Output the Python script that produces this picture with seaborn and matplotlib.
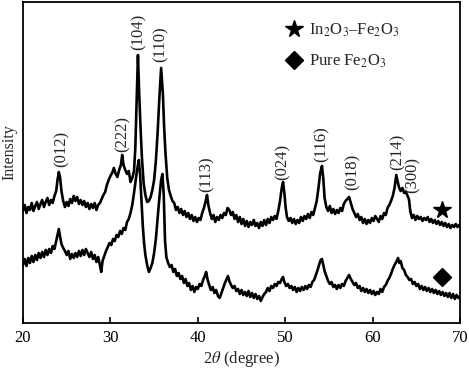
import numpy as np
import pandas as pd
import matplotlib
matplotlib.use("Agg")
import matplotlib.pyplot as plt
from matplotlib.lines import Line2D
import seaborn as sns

# ---------------- data ----------------
composite_theta = [
    20.0, 20.2, 20.4, 20.6, 20.8, 21.0, 21.2, 21.4, 21.6, 21.8, 22.0, 22.2, 22.4, 22.6, 22.8,
    23.0, 23.2, 23.4, 23.6, 23.8, 23.95, 24.1, 24.25, 24.4, 24.6, 24.8, 25.0, 25.2, 25.4, 25.6,
    25.8, 26.0, 26.2, 26.4, 26.6, 26.8, 27.0, 27.2, 27.4, 27.6, 27.8, 28.0, 28.2, 28.4, 28.6,
    28.8, 29.0, 29.2, 29.4, 29.6, 29.8, 30.0, 30.2, 30.4, 30.6, 30.8, 31.0, 31.2, 31.35, 31.5,
    31.7, 31.9, 32.1, 32.3, 32.5, 32.7, 32.85, 33.0, 33.15, 33.3, 33.45, 33.6, 33.8, 34.0, 34.2,
    34.4, 34.6, 34.8, 35.0, 35.2, 35.4, 35.6, 35.8, 36.0, 36.15, 36.3, 36.5, 36.7, 36.9, 37.1,
    37.3, 37.5, 37.7, 37.9, 38.1, 38.3, 38.5, 38.7, 38.9, 39.1, 39.3, 39.5, 39.7, 39.9, 40.1,
    40.3, 40.5, 40.7, 40.9, 41.05, 41.2, 41.4, 41.6, 41.8, 42.0, 42.2, 42.4, 42.6, 42.8, 43.0,
    43.2, 43.4, 43.6, 43.8, 44.0, 44.2, 44.4, 44.6, 44.8, 45.0, 45.2, 45.4, 45.6, 45.8, 46.0,
    46.2, 46.4, 46.6, 46.8, 47.0, 47.2, 47.4, 47.6, 47.8, 48.0, 48.2, 48.4, 48.6, 48.8, 49.0,
    49.2, 49.4, 49.6, 49.75, 49.9, 50.05, 50.2, 50.4, 50.6, 50.8, 51.0, 51.2, 51.4, 51.6, 51.8,
    52.0, 52.2, 52.4, 52.6, 52.8, 53.0, 53.2, 53.4, 53.6, 53.8, 54.0, 54.2, 54.35, 54.5, 54.7,
    54.9, 55.1, 55.3, 55.5, 55.7, 55.9, 56.1, 56.3, 56.5, 56.7, 56.9, 57.1, 57.3, 57.5, 57.7,
    57.9, 58.1, 58.3, 58.5, 58.7, 58.9, 59.1, 59.3, 59.5, 59.7, 59.9, 60.1, 60.3, 60.5, 60.7,
    60.9, 61.1, 61.3, 61.5, 61.7, 61.9, 62.1, 62.3, 62.5, 62.7, 62.85, 63.0, 63.2, 63.4, 63.6,
    63.8, 64.0, 64.15, 64.3, 64.5, 64.7, 64.9, 65.1, 65.3, 65.5, 65.7, 65.9, 66.1, 66.3, 66.5,
    66.7, 66.9, 67.1, 67.3, 67.5, 67.7, 67.9, 68.1, 68.3, 68.5, 68.7, 68.9, 69.1, 69.3, 69.5,
    69.7, 69.9, 70.0,
]
composite_intensity = [
    112, 118, 110, 116, 113, 120, 112, 117, 121, 114, 119, 123, 116, 121, 125,
    118, 123, 120, 127, 132, 143, 151, 145, 132, 122, 116, 121, 117, 124, 120,
    127, 122, 126, 119, 123, 118, 122, 116, 120, 114, 119, 115, 120, 113, 118,
    120, 124, 128, 131, 138, 143, 147, 150, 155, 149, 146, 153, 158, 168, 158,
    153, 149, 152, 141, 145, 152, 175, 220, 268, 228, 195, 166, 140, 128, 121,
    122, 126, 133, 143, 162, 190, 225, 255, 230, 195, 170, 145, 133, 127, 122,
    120, 113, 116, 110, 114, 108, 112, 106, 110, 104, 108, 102, 106, 101, 105,
    103, 110, 115, 122, 128, 118, 110, 104, 108, 101, 106, 103, 108, 105, 110,
    108, 115, 113, 108, 111, 104, 108, 101, 106, 99, 104, 97, 102, 96, 101,
    98, 103, 97, 100, 95, 101, 97, 103, 98, 104, 100, 106, 103, 107, 104,
    112, 122, 135, 141, 130, 115, 106, 102, 105, 100, 104, 99, 103, 100, 106,
    102, 107, 104, 109, 105, 111, 108, 115, 122, 135, 150, 157, 145, 125, 116,
    112, 117, 110, 114, 109, 113, 110, 115, 112, 119, 122, 124, 126, 120, 114,
    110, 106, 109, 103, 106, 100, 104, 99, 103, 100, 105, 102, 107, 104, 101,
    107, 104, 110, 108, 115, 118, 122, 127, 135, 148, 142, 136, 132, 135, 130,
    131, 127, 124, 112, 105, 108, 103, 107, 104, 106, 102, 105, 103, 106, 101,
    104, 100, 103, 99, 102, 98, 101, 97, 100, 96, 99, 95, 98, 96, 99,
    96, 98, 97,
]

pure_theta = [
    20.0, 20.2, 20.4, 20.6, 20.8, 21.0, 21.2, 21.4, 21.6, 21.8, 22.0, 22.2, 22.4, 22.6, 22.8,
    23.0, 23.2, 23.4, 23.6, 23.8, 23.95, 24.1, 24.25, 24.4, 24.6, 24.8, 25.0, 25.2, 25.4, 25.6,
    25.8, 26.0, 26.2, 26.4, 26.6, 26.8, 27.0, 27.2, 27.4, 27.6, 27.8, 28.0, 28.2, 28.4, 28.6,
    28.8, 28.95, 29.1, 29.3, 29.5, 29.7, 29.9, 30.1, 30.3, 30.5, 30.7, 30.9, 31.1, 31.3, 31.5,
    31.7, 31.9, 32.1, 32.3, 32.5, 32.7, 32.9, 33.05, 33.25, 33.4, 33.55, 33.7, 33.85, 34.0, 34.2,
    34.4, 34.6, 34.8, 35.0, 35.2, 35.4, 35.6, 35.8, 35.95, 36.1, 36.25, 36.4, 36.6, 36.8, 37.0,
    37.2, 37.4, 37.6, 37.8, 38.0, 38.2, 38.4, 38.6, 38.8, 39.0, 39.2, 39.4, 39.6, 39.8, 40.0,
    40.2, 40.4, 40.6, 40.8, 40.95, 41.1, 41.3, 41.5, 41.7, 41.9, 42.1, 42.3, 42.5, 42.7, 42.9,
    43.1, 43.3, 43.45, 43.6, 43.8, 44.0, 44.2, 44.4, 44.6, 44.8, 45.0, 45.2, 45.4, 45.6, 45.8,
    46.0, 46.2, 46.4, 46.6, 46.8, 47.0, 47.2, 47.4, 47.6, 47.8, 48.0, 48.2, 48.4, 48.6, 48.8,
    49.0, 49.2, 49.4, 49.6, 49.75, 49.9, 50.1, 50.3, 50.5, 50.7, 50.9, 51.1, 51.3, 51.5, 51.7,
    51.9, 52.1, 52.3, 52.5, 52.7, 52.9, 53.1, 53.3, 53.5, 53.7, 53.9, 54.05, 54.2, 54.35, 54.5,
    54.7, 54.9, 55.1, 55.3, 55.5, 55.7, 55.9, 56.1, 56.3, 56.5, 56.7, 56.9, 57.1, 57.3, 57.5,
    57.7, 57.9, 58.1, 58.3, 58.5, 58.7, 58.9, 59.1, 59.3, 59.5, 59.7, 59.9, 60.1, 60.3, 60.5,
    60.7, 60.9, 61.1, 61.3, 61.5, 61.7, 61.9, 62.1, 62.3, 62.5, 62.7, 62.9, 63.05, 63.2, 63.4,
    63.6, 63.8, 64.0, 64.2, 64.4, 64.6, 64.8, 65.0, 65.2, 65.4, 65.6, 65.8, 66.0, 66.2, 66.4,
    66.6, 66.8, 67.0, 67.2, 67.4, 67.6, 67.8, 68.0, 68.2, 68.4, 68.6, 68.8, 69.0, 69.2, 69.4,
    69.6, 69.8, 70.0,
]
pure_intensity = [
    58, 64, 57, 65, 60, 67, 61, 68, 63, 70, 65, 71, 66, 73, 68,
    74, 70, 77, 74, 82, 88, 94, 86, 79, 75, 72, 68, 72, 64, 69,
    65, 70, 66, 72, 67, 73, 68, 74, 70, 66, 71, 64, 68, 61, 66,
    58, 51, 62, 67, 72, 76, 80, 78, 84, 82, 88, 86, 92, 89, 95,
    93, 101, 104, 110, 118, 130, 143, 153, 163, 148, 122, 98, 80, 68, 58,
    51, 55, 60, 70, 84, 105, 125, 143, 149, 128, 82, 66, 60, 56, 58,
    51, 54, 47, 50, 44, 47, 40, 44, 37, 40, 33, 37, 31, 36, 34,
    39, 37, 43, 47, 51, 44, 38, 33, 36, 30, 33, 27, 25, 30, 35,
    40, 44, 47, 42, 38, 35, 37, 32, 34, 29, 33, 28, 31, 27, 32,
    26, 30, 25, 29, 24, 27, 22, 26, 29, 31, 35, 32, 37, 35, 39,
    37, 41, 40, 44, 46, 41, 37, 39, 35, 37, 33, 36, 31, 35, 32,
    36, 33, 37, 34, 38, 36, 41, 43, 48, 53, 59, 63, 64, 58, 52,
    47, 42, 39, 41, 36, 38, 34, 38, 35, 39, 37, 42, 45, 48, 44,
    41, 38, 40, 35, 37, 32, 35, 31, 34, 30, 33, 29, 32, 28, 31,
    29, 34, 31, 36, 38, 42, 45, 49, 54, 58, 61, 65, 60, 62, 55,
    53, 48, 46, 43, 44, 39, 41, 37, 39, 34, 37, 33, 36, 32, 35,
    31, 34, 30, 33, 29, 32, 28, 31, 27, 30, 26, 30, 25, 29, 24,
    28, 25, 27,
]

peak_labels = ["(012)", "(222)", "(104)", "(110)", "(113)", "(024)", "(116)", "(018)", "(214)", "(300)"]
label_theta = [24.45, 31.45, 33.27, 35.79, 41.05, 49.75, 54.2, 57.75, 62.8, 64.6]
label_height = [156, 171, 273, 261, 131, 143, 161, 133, 153, 130]

series_names = ["In$_2$O$_3$\u2013Fe$_2$O$_3$", "Pure Fe$_2$O$_3$"]
series_markers = ["*", "D"]
marker_theta = [67.95, 67.95]
marker_height = [113, 46]

x_ticks = [20, 30, 40, 50, 60, 70]

# ---------------- plotting ----------------
sns.set_theme(style="white")
plt.rcParams["font.family"] = ["Liberation Serif", "DejaVu Serif"]
plt.rcParams["mathtext.fontset"] = "stix"

df = pd.concat([
    pd.DataFrame({"theta": composite_theta, "intensity": composite_intensity, "sample": series_names[0]}),
    pd.DataFrame({"theta": pure_theta, "intensity": pure_intensity, "sample": series_names[1]}),
])

fig = plt.figure(figsize=(4.69, 3.69), dpi=100)
ax = fig.add_axes([0.049, 0.1247, 0.932, 0.8699])

sns.lineplot(data=df, x="theta", y="intensity", hue="sample",
             palette=["black", "black"], estimator=None, sort=False,
             legend=False, linewidth=1.9, ax=ax)

for mk, mx, my in zip(series_markers, marker_theta, marker_height):
    ax.plot([mx], [my], marker=mk, color="black", linestyle="None",
            markersize=13 if mk == "*" else 9)

for lab, lx, ly in zip(peak_labels, label_theta, label_height):
    ax.text(lx, ly, lab, rotation=90, ha="center", va="bottom", fontsize=12)

handles = [Line2D([], [], marker=m, color="black", linestyle="None",
                  markersize=13 if m == "*" else 9) for m in series_markers]
ax.legend(handles, series_names, loc="upper left", bbox_to_anchor=(0.5636, 0.975),
          frameon=False, fontsize=12, handletextpad=0.2, handlelength=1.5,
          labelspacing=0.8, borderaxespad=0.3)

ax.set_xlim(20, 70)
ax.set_ylim(0, 321)
ax.set_xticks(x_ticks)
ax.set_xticklabels([str(t) for t in x_ticks], fontsize=12)
ax.set_yticks([])
ax.tick_params(axis="x", direction="in", length=4, width=1.2, pad=5, bottom=True, colors="black")
ax.set_xlabel("2$\\theta$ (degree)", fontsize=12, labelpad=2)
ax.set_ylabel("Intensity", fontsize=11.5)
ax.yaxis.set_label_coords(-0.012, 0.533)
for s in ax.spines.values():
    s.set_color("black")
    s.set_linewidth(1.3)

fig.savefig("out.png", dpi=100)
